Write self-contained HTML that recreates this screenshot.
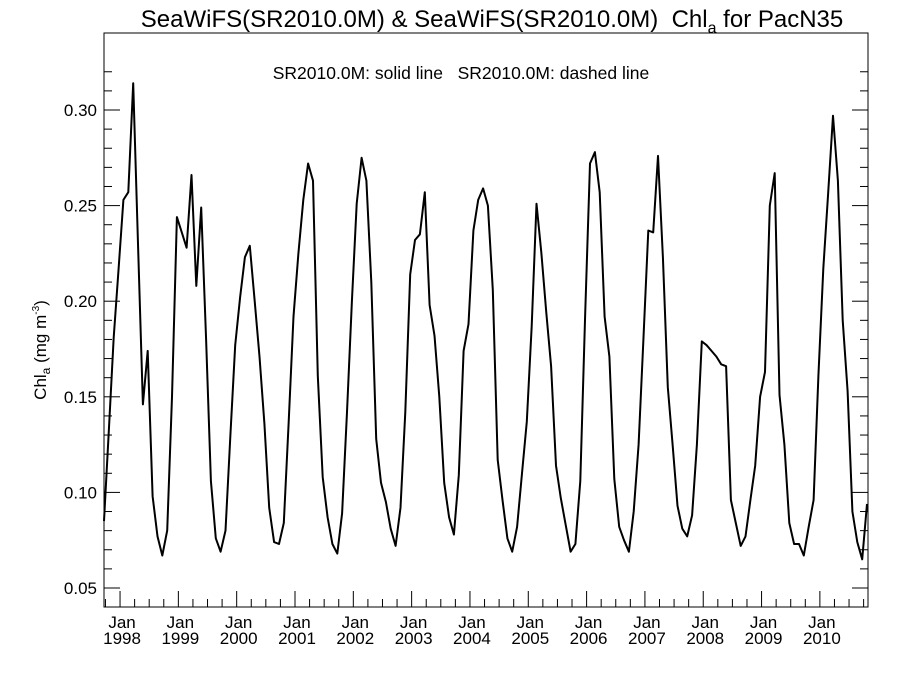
<!DOCTYPE html>
<html><head><meta charset="utf-8"><style>
body{margin:0;background:#fff}
svg text{font-family:"Liberation Sans",sans-serif;fill:#000;white-space:pre}
</style></head><body>
<svg id="c" width="900" height="675" xmlns="http://www.w3.org/2000/svg" xml:space="preserve">
<text x="492" y="27" font-size="24" text-anchor="middle">SeaWiFS(SR2010.0M) &amp; SeaWiFS(SR2010.0M)  Chl<tspan font-size="16" dy="6">a</tspan><tspan dy="-6"> for PacN35</tspan></text>
<text x="461" y="79" font-size="17.5" text-anchor="middle">SR2010.0M: solid line   SR2010.0M: dashed line</text>
<text transform="translate(46,350) rotate(-90)" font-size="17" text-anchor="middle">Chl<tspan font-size="12" dy="4">a</tspan><tspan dy="-4"> (mg m</tspan><tspan font-size="10" dy="-7">-3</tspan><tspan dy="7">)</tspan></text>
<rect x="104" y="33" width="764" height="574" fill="none" stroke="#000" stroke-width="1"/>
<g id="axes"></g>
<path id="line" fill="none" stroke="#000" stroke-width="2" stroke-linejoin="round"/>
</svg>
<script>
const yTicks=[0.05,0.10,0.15,0.20,0.25,0.30];
const yearLabels=['1998','1999','2000','2001','2002','2003','2004','2005','2006','2007','2008','2009','2010'];
const values=[0.085,0.133,0.181,0.217,0.253,0.257,0.314,0.23,0.146,0.174,0.098,0.077,0.067,0.080,0.15,0.244,0.236,0.228,0.266,0.208,0.249,0.18,0.106,0.076,0.069,0.080,0.13,0.177,0.202,0.223,0.229,0.2,0.171,0.136,0.092,0.074,0.073,0.084,0.137,0.192,0.225,0.253,0.272,0.263,0.161,0.108,0.087,0.073,0.068,0.089,0.142,0.2,0.251,0.275,0.263,0.21,0.128,0.105,0.095,0.081,0.072,0.092,0.142,0.214,0.232,0.235,0.257,0.198,0.182,0.15,0.105,0.087,0.078,0.109,0.174,0.188,0.237,0.253,0.259,0.25,0.206,0.117,0.096,0.076,0.069,0.082,0.11,0.137,0.187,0.251,0.225,0.194,0.166,0.114,0.097,0.083,0.069,0.073,0.106,0.192,0.272,0.278,0.257,0.192,0.171,0.107,0.082,0.075,0.069,0.09,0.125,0.181,0.237,0.236,0.276,0.223,0.155,0.125,0.093,0.081,0.077,0.088,0.125,0.179,0.177,0.174,0.171,0.167,0.166,0.096,0.084,0.072,0.077,0.096,0.114,0.15,0.163,0.25,0.267,0.151,0.125,0.084,0.073,0.073,0.067,0.082,0.096,0.161,0.217,0.256,0.297,0.263,0.19,0.153,0.09,0.074,0.065,0.094];
const X0=104,X1=868,Y0=33,Y1=607,PM=4.86;
const x=i=>X0+i*PM;
const y=v=>588-(v-0.05)*1912;
const ns='http://www.w3.org/2000/svg';
const g=document.getElementById('axes');
function ln(x1,y1,x2,y2,name){const l=document.createElementNS(ns,'line');l.setAttribute('x1',x1);l.setAttribute('y1',y1);l.setAttribute('x2',x2);l.setAttribute('y2',y2);l.setAttribute('stroke','#000');l.setAttribute('stroke-width','1');


g.appendChild(l);}
function tx(xx,yy,s,anchor,name){const t=document.createElementNS(ns,'text');t.setAttribute('x',xx);t.setAttribute('y',yy);t.setAttribute('font-size','17');t.setAttribute('text-anchor',anchor);t.textContent=s;


g.appendChild(t);}
for(let k=5;k<=32;k++){const v=k/100,yy=y(v);if(yy<Y0||yy>Y1)continue;const major=k%5===0;const L=major?16:8;
ln(X0,yy,X0+L,yy,'y-tick');ln(X1-L,yy,X1,yy,'y-tick-right');}
yTicks.forEach(v=>tx(97,y(v)+6,v.toFixed(2),'end','y-tick-label'));
for(let m=1;m<160;m+=3){const xx=x(m-0.7);if(xx>X1)break;const jan=(m-4)%12===0;ln(xx,Y1,xx,Y1-(jan?16:8),jan?'x-tick-jan':'x-tick-minor');}
yearLabels.forEach((yr,k)=>{const xx=x(4+12*k-0.7)+2;tx(xx,628,'Jan','middle','x-tick-month');tx(xx,644,yr,'middle','x-tick-year');});
document.getElementById('line').setAttribute('d',values.map((v,i)=>(i?'L':'M')+x(i).toFixed(1)+','+y(v).toFixed(1)).join(''));
</script>
</body></html>
